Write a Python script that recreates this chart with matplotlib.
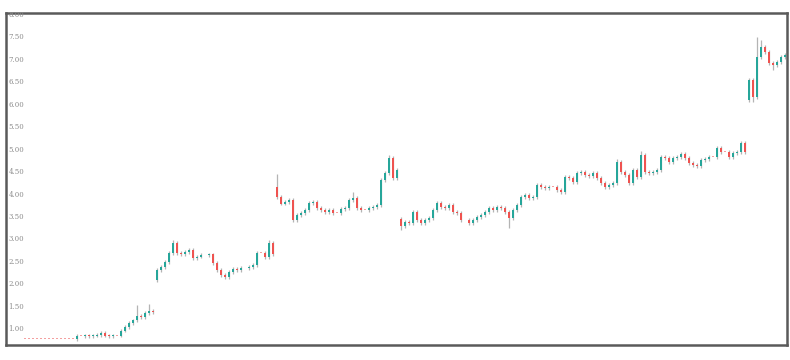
import matplotlib
matplotlib.use("Agg")
import matplotlib.pyplot as plt
from matplotlib.patches import Rectangle
import matplotlib.transforms as mtransforms

# ---- data (closing prices per candle, by segment) ----
seg_a = [0.79] * 13 + [0.85, 0.85, 0.86, 0.85, 0.86, 0.87, 0.92, 0.86, 0.85, 0.86, 0.86,
                       0.97, 1.05, 1.14, 1.20, 1.30, 1.27, 1.36, 1.41, 1.38]
seg_b = [2.32, 2.39, 2.50, 2.70, 2.92, 2.70, 2.68, 2.72, 2.76, 2.59, 2.62, 2.65, 2.65, 2.67,
         2.48, 2.32, 2.21, 2.17, 2.28, 2.34, 2.32, 2.36, 2.36, 2.39, 2.43, 2.70, 2.70, 2.61,
         2.92, 2.67]
seg_c = [3.95, 3.80, 3.84, 3.88, 3.43, 3.55, 3.59, 3.66, 3.81, 3.84, 3.70, 3.66, 3.61, 3.66,
         3.59, 3.59, 3.68, 3.70, 3.88, 3.92, 3.70, 3.66, 3.66, 3.70, 3.72, 3.77, 4.32, 4.48,
         4.81, 4.37, 4.55]
seg_d = [3.30, 3.39, 3.37, 3.61, 3.43, 3.37, 3.43, 3.48, 3.66, 3.81, 3.72, 3.70, 3.77, 3.61,
         3.59, 3.43, 3.43, 3.37, 3.43, 3.50, 3.55, 3.61, 3.70, 3.66, 3.72, 3.70, 3.61, 3.48,
         3.66, 3.77, 3.95, 3.99, 3.92, 3.95, 4.21, 4.17, 4.15, 4.17, 4.17, 4.10, 4.06, 4.39,
         4.37, 4.28, 4.48, 4.50, 4.44, 4.41, 4.48, 4.37, 4.26, 4.17, 4.21, 4.26, 4.73, 4.50,
         4.44, 4.26, 4.55, 4.39, 4.88, 4.50, 4.48, 4.50, 4.55, 4.84, 4.82, 4.73, 4.82, 4.84,
         4.90, 4.82, 4.70, 4.66, 4.64, 4.77, 4.79, 4.84, 4.84, 5.04, 4.95, 4.95, 4.84, 4.93,
         4.95, 5.15, 4.95]
seg_e = [6.55, 6.17, 7.06, 7.29, 7.18, 6.93, 6.89, 6.95, 7.06, 7.11]

# opening price of the first candle of each price segment (index -> open)
gap_opens = {0: 0.79, 33: 2.10, 63: 4.17, 94: 3.45, 181: 6.11}
# notable wick extremes (index -> price)
spike_highs = {28: 1.54, 31: 1.56, 37: 2.98, 61: 2.98, 63: 4.46, 82: 4.06, 91: 4.88,
               148: 4.80, 154: 4.97, 179: 5.20, 183: 7.51, 184: 7.45}
spike_lows = {94: 3.22, 121: 3.26, 182: 6.06, 187: 6.78}

y_ticks = [1.0, 1.5, 2.0, 2.5, 3.0, 3.5, 4.0, 4.5, 5.0, 5.5, 6.0, 6.5, 7.0, 7.5, 8.0]

closes = seg_a + seg_b + seg_c + seg_d + seg_e
opens = []
for i, c in enumerate(closes):
    opens.append(gap_opens[i] if i in gap_opens else closes[i - 1])

W, H = 790, 360
fig = plt.figure(figsize=(W / 100, H / 100), dpi=100)
fig.patch.set_facecolor("white")
ax = fig.add_axes([6 / W, 15 / H, (787 - 6) / W, (345 - 13) / H])
ax.set_facecolor("white")

up_col = "#26a69a"
dn_col = "#ef5350"
wick_col = "#b4b4b4"
bw = 0.62
pad = 0.04

for i, (o, c) in enumerate(zip(opens, closes)):
    top, bot = max(o, c), min(o, c)
    hi = spike_highs.get(i, top + pad if top != bot else top)
    lo = spike_lows.get(i, bot - pad if top != bot else bot)
    if hi > top or lo < bot:
        ax.plot([i, i], [lo, hi], color=wick_col, lw=0.9, zorder=2, solid_capstyle="butt")
    col = up_col if c > o else dn_col
    if c == o:
        col = "#f4a0a0"
    h = max(top - bot, 0.012)
    ax.add_patch(Rectangle((i - bw / 2, bot), bw, h, facecolor=col, edgecolor="none", zorder=3))

ax.set_xlim(-4.75, 190.5)
ax.set_ylim(0.65, 8.045)
ax.set_xticks([])
ax.set_yticks([])
for s in ax.spines.values():
    s.set_color("#5a5a5a")
    s.set_linewidth(1.8)

trans = mtransforms.blended_transform_factory(ax.transAxes, ax.transData)
for t in y_ticks:
    ax.text(2.5 / 781, t, f"{t:.2f}", transform=trans, fontsize=5, color="#8c8c8c",
            ha="left", va="center", family="DejaVu Serif")

fig.savefig("out.png", dpi=100)
